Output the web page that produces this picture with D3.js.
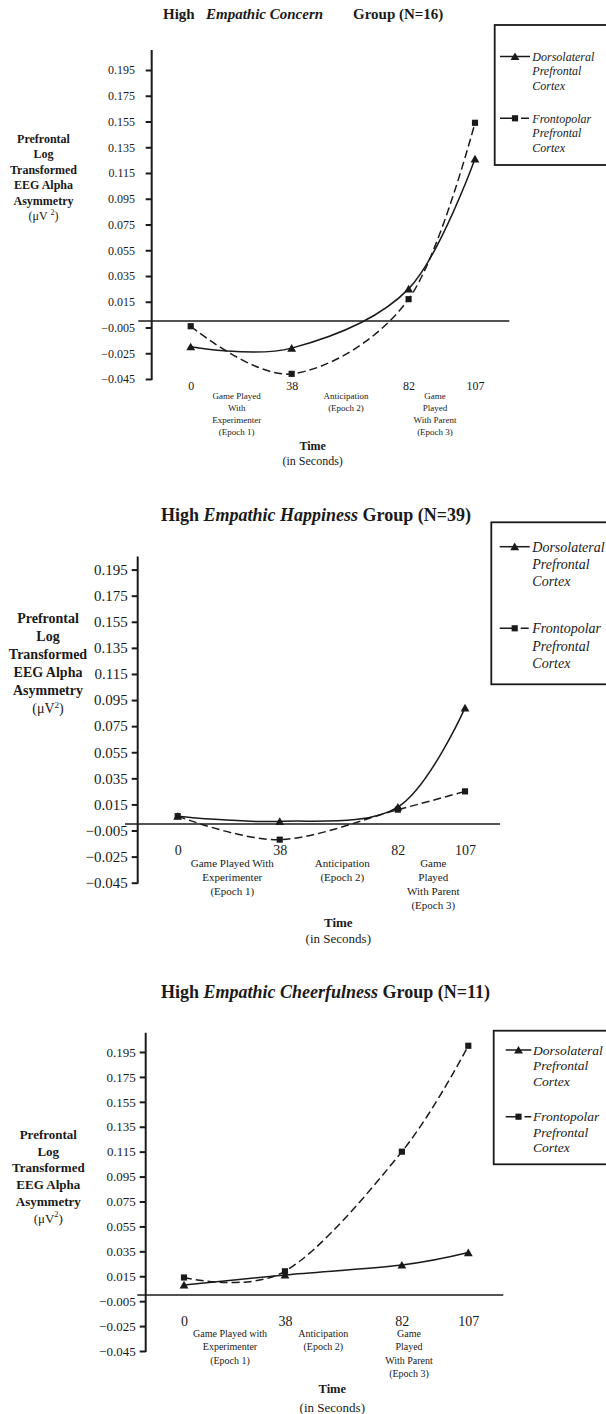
<!DOCTYPE html>
<html>
<head>
<meta charset="utf-8">
<script src="https://cdn.jsdelivr.net/npm/d3@7"></script>
<style>
  body { margin: 0; background: #fff; }
  text { font-family: "Liberation Serif", "Times New Roman", serif; fill: #1a1a1a; }
</style>
</head>
<body>
<div id="chart"></div>
<script>
// time points (seconds) shared by all three panels
const times = [0, 38, 82, 107];
const yTicks = [0.195, 0.175, 0.155, 0.135, 0.115, 0.095, 0.075, 0.055, 0.035, 0.015, -0.005, -0.025, -0.045];

// log transformed alpha asymmetry
const concernDorsolateral = [-0.020, -0.021, 0.025, 0.126];
const concernFrontopolar = [-0.004, -0.041, 0.017, 0.154];
const happinessDorsolateral = [0.006, 0.002, 0.013, 0.089];
const happinessFrontopolar = [0.006, -0.012, 0.011, 0.025];
const cheerDorsolateral = [0.008, 0.016, 0.024, 0.034];
const cheerFrontopolar = [0.014, 0.019, 0.115, 0.200];

const legendNames = [
  ["Dorsolateral", "Prefrontal", "Cortex"],
  ["Frontopolar", "Prefrontal", "Cortex"],
];
const yLabelLines = ["Prefrontal", "Log", "Transformed", "EEG Alpha", "Asymmetry"];

const concernEpochs = [
  ["Game Played", "With", "Experimenter", "(Epoch 1)"],
  ["Anticipation", "(Epoch 2)"],
  ["Game", "Played", "With Parent", "(Epoch 3)"],
];
const happinessEpochs = [
  ["Game Played With", "Experimenter", "(Epoch 1)"],
  ["Anticipation", "(Epoch 2)"],
  ["Game", "Played", "With Parent", "(Epoch 3)"],
];
const cheerEpochs = [
  ["Game Played with", "Experimenter", "(Epoch 1)"],
  ["Anticipation", "(Epoch 2)"],
  ["Game", "Played", "With Parent", "(Epoch 3)"],
];

const W = 606, H = 1414;

const svg = d3.select("#chart")
  .append("svg")
  .attr("width", W)
  .attr("height", H)
  .attr("viewBox", [0, 0, W, H]);

// layout of each panel (pixels), data comes from the arrays above
const panels = [
  {
    title: [["High", false], ["Empathic Concern", true], ["Group (N=16)", false]],
    titleX: [163, 206, 353], titleY: 19, titleSize: 15,
    dorso: concernDorsolateral, fronto: concernFrontopolar, epochs: concernEpochs,
    axisX: 151.7, yt: 70, yb: 379, top: 20, x0: 190.7, x1: 475, zx1: 138.3, zx2: 509.3,
    tickSize: 12, tickPad: 10.7,
    yLabX: 43.5, yLab0: 143, yLabDy: 15.4, yLabSize: 12, superGap: true,
    xLabY: 390, xLabSize: 12,
    epY0: 399, epDy: 12, epSize: 9, epX: [236.7, 346, 435],
    timeX: 312.7, timeY: 450, secY: 465, timeSize: 12, secSize: 12,
    boxX: 494.7, boxY: 25, boxH: 140, legY: [56.5, 118.3], legDy: 14.5, legSize: 12,
    legLine: [500, 530], legText: 532.3,
  },
  {
    title: [["High ", false], ["Empathic Happiness", true], [" Group (N=39)", false]],
    titleX: [161], titleY: 521, titleSize: 18,
    dorso: happinessDorsolateral, fronto: happinessFrontopolar, epochs: happinessEpochs,
    axisX: 137.7, yt: 569.6, yb: 882.7, top: 13, x0: 177.7, x1: 465, zx1: 125, zx2: 500,
    tickSize: 15, tickPad: 4,
    yLabX: 48, yLab0: 623.3, yLabDy: 18, yLabSize: 14, superGap: false,
    xLabY: 855, xLabSize: 14,
    epY0: 866.7, epDy: 14.2, epSize: 11, epX: [232.3, 342.3, 433.3],
    timeX: 338.3, timeY: 926.7, secY: 943.3, timeSize: 13, secSize: 13,
    boxX: 491.3, boxY: 522.3, boxH: 162, legY: [546.7, 628.3], legDy: 17.3, legSize: 14,
    legLine: [499.7, 529.7], legText: 532.3,
  },
  {
    title: [["High ", false], ["Empathic Cheerfulness", true], [" Group (N=11)", false]],
    titleX: [161], titleY: 998, titleSize: 18,
    dorso: cheerDorsolateral, fronto: cheerFrontopolar, epochs: cheerEpochs,
    axisX: 145.7, yt: 1052, yb: 1351, top: 19.3, x0: 184, x1: 468.3, zx1: 137.3, zx2: 503.3,
    tickSize: 13, tickPad: 4,
    yLabX: 48.3, yLab0: 1139, yLabDy: 16.7, yLabSize: 13, superGap: false,
    xLabY: 1325.5, xLabSize: 14,
    epY0: 1336.5, epDy: 13.6, epSize: 10, epX: [230, 323.3, 409],
    timeX: 332.3, timeY: 1393.3, secY: 1412, timeSize: 12.5, secSize: 13,
    boxX: 493.7, boxY: 1030.7, boxH: 133.6, legY: [1050, 1116.7], legDy: 15.4, legSize: 13.5,
    legLine: [505.7, 531.3], legText: 533,
  },
];

const triangle = d3.symbol(d3.symbolTriangle, 34);
const square = d3.symbol(d3.symbolSquare, 38);

panels.forEach(drawPanel);

function drawPanel(p) {
  const g = svg.append("g");

  const x = d3.scaleLinear().domain([0, 107]).range([p.x0, p.x1]);
  const y = d3.scaleLinear().domain([-0.045, 0.195]).range([p.yb, p.yt]);

  // Title
  const title = g.append("text")
    .attr("y", p.titleY)
    .style("font-size", p.titleSize + "px")
    .style("font-weight", "bold");
  p.title.forEach(([s, it], i) => {
    const t = title.append("tspan").text(s).style("font-style", it ? "italic" : "normal");
    if (p.titleX[i] !== undefined) t.attr("x", p.titleX[i]);
  });

  // Y axis
  const ya = g.append("g")
    .attr("transform", `translate(${p.axisX},0)`)
    .call(d3.axisLeft(y)
      .tickValues(yTicks)
      .tickSize(6)
      .tickPadding(p.tickPad)
      .tickFormat(d3.format(".3f")));
  ya.select(".domain").remove();
  ya.selectAll(".tick line").attr("stroke", "#1a1a1a").attr("stroke-width", 2);
  ya.selectAll(".tick text")
    .style("font-family", '"Liberation Serif", serif')
    .style("font-size", p.tickSize + "px")
    .attr("fill", "#1a1a1a");

  g.append("line")
    .attr("x1", p.axisX).attr("x2", p.axisX)
    .attr("y1", y(0.195) - p.top).attr("y2", y(-0.045) + 1)
    .attr("stroke", "#1a1a1a")
    .attr("stroke-width", 2);

  // zero line
  g.append("line")
    .attr("x1", p.zx1).attr("x2", p.zx2)
    .attr("y1", y(0)).attr("y2", y(0))
    .attr("stroke", "#1a1a1a")
    .attr("stroke-width", 1.5);

  // Y label
  const yl = g.append("text")
    .attr("text-anchor", "middle")
    .style("font-size", p.yLabSize + "px");
  yLabelLines.forEach((s, i) => {
    yl.append("tspan")
      .attr("x", p.yLabX)
      .attr("y", p.yLab0 + i * p.yLabDy)
      .style("font-weight", "bold")
      .text(s);
  });
  yl.append("tspan")
    .attr("x", p.yLabX)
    .attr("y", p.yLab0 + yLabelLines.length * p.yLabDy)
    .text(p.superGap ? "(\u03BCV " : "(\u03BCV");
  yl.append("tspan").attr("dy", -p.yLabSize * 0.4).style("font-size", p.yLabSize * 0.65 + "px").text("2");
  yl.append("tspan").attr("dy", p.yLabSize * 0.4).text(")");

  // X tick labels
  const xa = g.append("g")
    .attr("transform", `translate(0,${p.xLabY})`)
    .call(d3.axisBottom(x).tickValues(times).tickSize(0).tickFormat(d3.format("d")));
  xa.select(".domain").remove();
  xa.selectAll(".tick text")
    .attr("y", 0).attr("dy", null)
    .attr("fill", "#1a1a1a")
    .style("font-family", '"Liberation Serif", serif')
    .style("font-size", p.xLabSize + "px");

  // Epoch labels
  p.epochs.forEach((lines, k) => {
    const t = g.append("text")
      .attr("text-anchor", "middle")
      .style("font-size", p.epSize + "px");
    lines.forEach((s, i) => {
      t.append("tspan").attr("x", p.epX[k]).attr("y", p.epY0 + i * p.epDy).text(s);
    });
  });

  g.append("text")
    .attr("x", p.timeX).attr("y", p.timeY)
    .attr("text-anchor", "middle")
    .style("font-size", p.timeSize + "px")
    .style("font-weight", "bold")
    .text("Time");
  g.append("text")
    .attr("x", p.timeX).attr("y", p.secY)
    .attr("text-anchor", "middle")
    .style("font-size", p.secSize + "px")
    .text("(in Seconds)");

  // Lines
  const line = d3.line()
    .x((d, i) => x(times[i]))
    .y(d => y(d))
    .curve(d3.curveCardinal.tension(0));

  g.append("path")
    .attr("d", line(p.fronto))
    .attr("fill", "none")
    .attr("stroke", "#1a1a1a")
    .attr("stroke-width", 1.5)
    .attr("stroke-dasharray", "8,4");

  g.append("path")
    .attr("d", line(p.dorso))
    .attr("fill", "none")
    .attr("stroke", "#1a1a1a")
    .attr("stroke-width", 1.5);

  g.selectAll(".sq")
    .data(p.fronto)
    .join("path")
    .attr("transform", (d, i) => `translate(${x(times[i])},${y(d)})`)
    .attr("d", square())
    .attr("fill", "#1a1a1a");

  g.selectAll(".tri")
    .data(p.dorso)
    .join("path")
    .attr("transform", (d, i) => `translate(${x(times[i])},${y(d) + 1})`)
    .attr("d", triangle())
    .attr("fill", "#1a1a1a");

  // Legend
  g.append("rect")
    .attr("x", p.boxX).attr("y", p.boxY)
    .attr("width", W + 20 - p.boxX).attr("height", p.boxH)
    .attr("fill", "none")
    .attr("stroke", "#1a1a1a")
    .attr("stroke-width", 1.8);

  legendNames.forEach((lines, k) => {
    const ly = p.legY[k];
    const mid = (p.legLine[0] + p.legLine[1]) / 2;
    g.append("line")
      .attr("x1", p.legLine[0]).attr("x2", p.legLine[1])
      .attr("y1", ly).attr("y2", ly)
      .attr("stroke", "#1a1a1a")
      .attr("stroke-width", 1.5)
      .attr("stroke-dasharray", k === 0 ? null : `${mid - p.legLine[0] + 1},5,8`);
    g.append("path")
      .attr("transform", `translate(${mid},${ly + (k === 0 ? 1 : 0)})`)
      .attr("d", k === 0 ? triangle() : square())
      .attr("fill", "#1a1a1a");
    const t = g.append("text")
      .style("font-size", p.legSize + "px")
      .style("font-style", "italic");
    lines.forEach((s, i) => {
      t.append("tspan")
        .attr("x", p.legText)
        .attr("y", ly + i * p.legDy)
        .attr("dy", "0.35em")
        .text(s);
    });
  });
}
</script>
</body>
</html>
